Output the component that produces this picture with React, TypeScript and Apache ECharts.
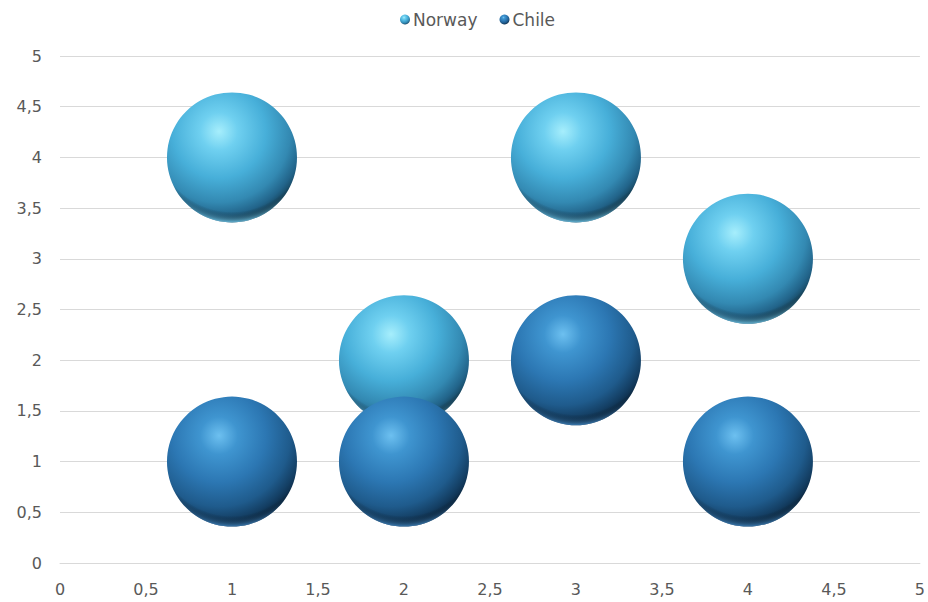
import React, { useEffect, useRef } from "react";
import * as echarts from "echarts";

const norwayX = [1, 2, 3, 4];
const norwayY = [4, 2, 4, 3];
const chileX = [1, 2, 3, 4];
const chileY = [1, 1, 2, 1];
const axisTicks = [0, 0.5, 1, 1.5, 2, 2.5, 3, 3.5, 4, 4.5, 5];

const fmt = (v: number) => String(v).replace(".", ",");

const sphere = (stops: [number, string][]) =>
  new echarts.graphic.RadialGradient(
    0.4,
    0.3,
    0.72,
    stops.map(([offset, color]) => ({ offset, color }))
  );

const rim = (c: string) =>
  new echarts.graphic.RadialGradient(0.5, 0.33, 0.7, [
    { offset: 0, color: "rgba(0,0,0,0)" },
    { offset: 0.84, color: "rgba(0,0,0,0)" },
    { offset: 0.95, color: c },
    { offset: 1, color: c },
  ]);

const norwayColor = sphere([
  [0, "#A6EEFC"],
  [0.2, "#6FD0F0"],
  [0.5, "#47AFD9"],
  [0.76, "#3389B2"],
  [0.9, "#22648A"],
  [1, "#143F55"],
]);
const chileColor = sphere([
  [0, "#6DC0F0"],
  [0.2, "#3F95D0"],
  [0.5, "#2C77B3"],
  [0.76, "#1F5B8C"],
  [0.9, "#143F64"],
  [1, "#0B2740"],
]);

export default function App() {
  const ref = useRef<HTMLDivElement>(null);
  useEffect(() => {
    document.body.style.margin = "0";
    const chart = echarts.init(ref.current!, null, { renderer: "svg" });
    const bubble = 130;
    const toData = (xs: number[], ys: number[]) => xs.map((x, i) => [x, ys[i]]);
    chart.setOption({
      animation: false,
      backgroundColor: "#ffffff",
      textStyle: { fontFamily: "DejaVu Sans" },
      legend: {
        data: ["Norway", "Chile"],
        top: 6,
        left: 395,
        icon: "circle",
        itemWidth: 10,
        itemHeight: 10,
        itemGap: 22,
        textStyle: { fontSize: 17, color: "#595959", fontFamily: "DejaVu Sans", padding: [0, 0, 0, -2] },
      },
      grid: { left: 60, right: 6, top: 56, bottom: 39, containLabel: false },
      xAxis: {
        type: "value",
        min: axisTicks[0],
        max: axisTicks[axisTicks.length - 1],
        interval: 0.5,
        axisLine: { show: true, lineStyle: { color: "#D9D9D9" } },
        axisTick: { show: false },
        splitLine: { show: false },
        axisLabel: { color: "#595959", fontSize: 16, margin: 18, formatter: fmt },
      },
      yAxis: {
        type: "value",
        min: axisTicks[0],
        max: axisTicks[axisTicks.length - 1],
        interval: 0.5,
        axisLine: { show: false },
        axisTick: { show: false },
        splitLine: { show: true, lineStyle: { color: "#D9D9D9" } },
        axisLabel: { color: "#595959", fontSize: 16, margin: 18, formatter: fmt },
      },
      series: [
        {
          name: "Norway",
          type: "scatter",
          symbol: "circle",
          symbolSize: bubble,
          data: toData(norwayX, norwayY),
          itemStyle: { color: norwayColor, opacity: 1 },
          emphasis: { disabled: true },
        },
        {
          name: "NorwayRim",
          type: "scatter",
          symbol: "circle",
          symbolSize: bubble,
          silent: true,
          data: toData(norwayX, norwayY),
          itemStyle: { color: rim("rgba(120,205,238,0.7)"), opacity: 1 },
        },
        {
          name: "Chile",
          type: "scatter",
          symbol: "circle",
          symbolSize: bubble,
          data: toData(chileX, chileY),
          itemStyle: { color: chileColor, opacity: 1 },
          emphasis: { disabled: true },
        },
        {
          name: "ChileRim",
          type: "scatter",
          symbol: "circle",
          symbolSize: bubble,
          silent: true,
          data: toData(chileX, chileY),
          itemStyle: { color: rim("rgba(70,140,200,0.7)"), opacity: 1 },
        },
      ],
    });
    return () => chart.dispose();
  }, []);
  return <div ref={ref} style={{ position: "absolute", left: 0, top: 0, width: 928, height: 602 }} />;
}
